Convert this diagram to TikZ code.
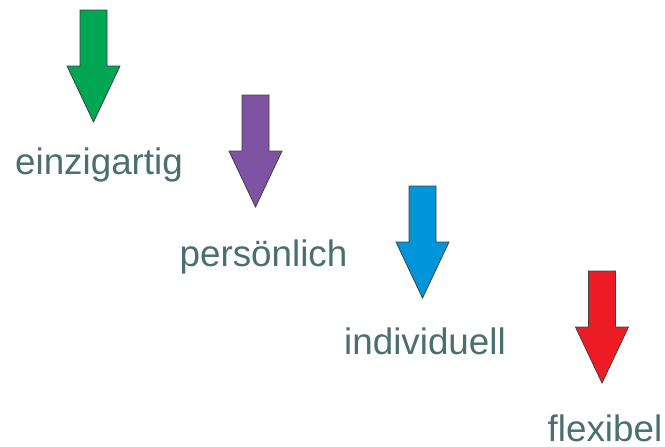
\documentclass[tikz,border=0pt]{standalone}
\usepackage{fontspec}
\setmainfont{Liberation Sans}
\definecolor{labelgray}{RGB}{74,111,108}
\definecolor{arrowgreen}{RGB}{0,166,81}
\definecolor{arrowpurple}{RGB}{127,83,163}
\definecolor{arrowblue}{RGB}{0,148,217}
\definecolor{arrowred}{RGB}{237,28,36}
\tikzstyle{label}=[text=labelgray, anchor=base, inner sep=0pt, font=\fontsize{18.4}{22}\selectfont]
\tikzstyle{down arrow}=[draw=black!75, line width=0.4pt, line join=miter]
\tikzset{downarrow/.pic={
	\draw [style=down arrow, pic actions] (-13.5,0) -- (13.5,0) -- (13.5,56) -- (26.5,56) -- (0,112) -- (-26.5,56) -- (-13.5,56) -- cycle;
}}

\begin{document}
\begin{tikzpicture}[x=0.5pt, y=-0.5pt]
	\useasboundingbox (0,0) rectangle (665,446);
	% arrows
	\pic [fill=arrowgreen] at (93.5,10) {downarrow};
	\pic [fill=arrowpurple] at (255.5,95) {downarrow};
	\pic [fill=arrowblue] at (422.5,186) {downarrow};
	\pic [fill=arrowred] at (602,271) {downarrow};
	% labels
	\node [style=label] (0) at (99,174) {einzigartig};
	\node [style=label] (1) at (263.5,266) {persönlich};
	\node [style=label] (2) at (425,354) {individuell};
	\node [style=label] (3) at (605,441) {flexibel};
\end{tikzpicture}
\end{document}
